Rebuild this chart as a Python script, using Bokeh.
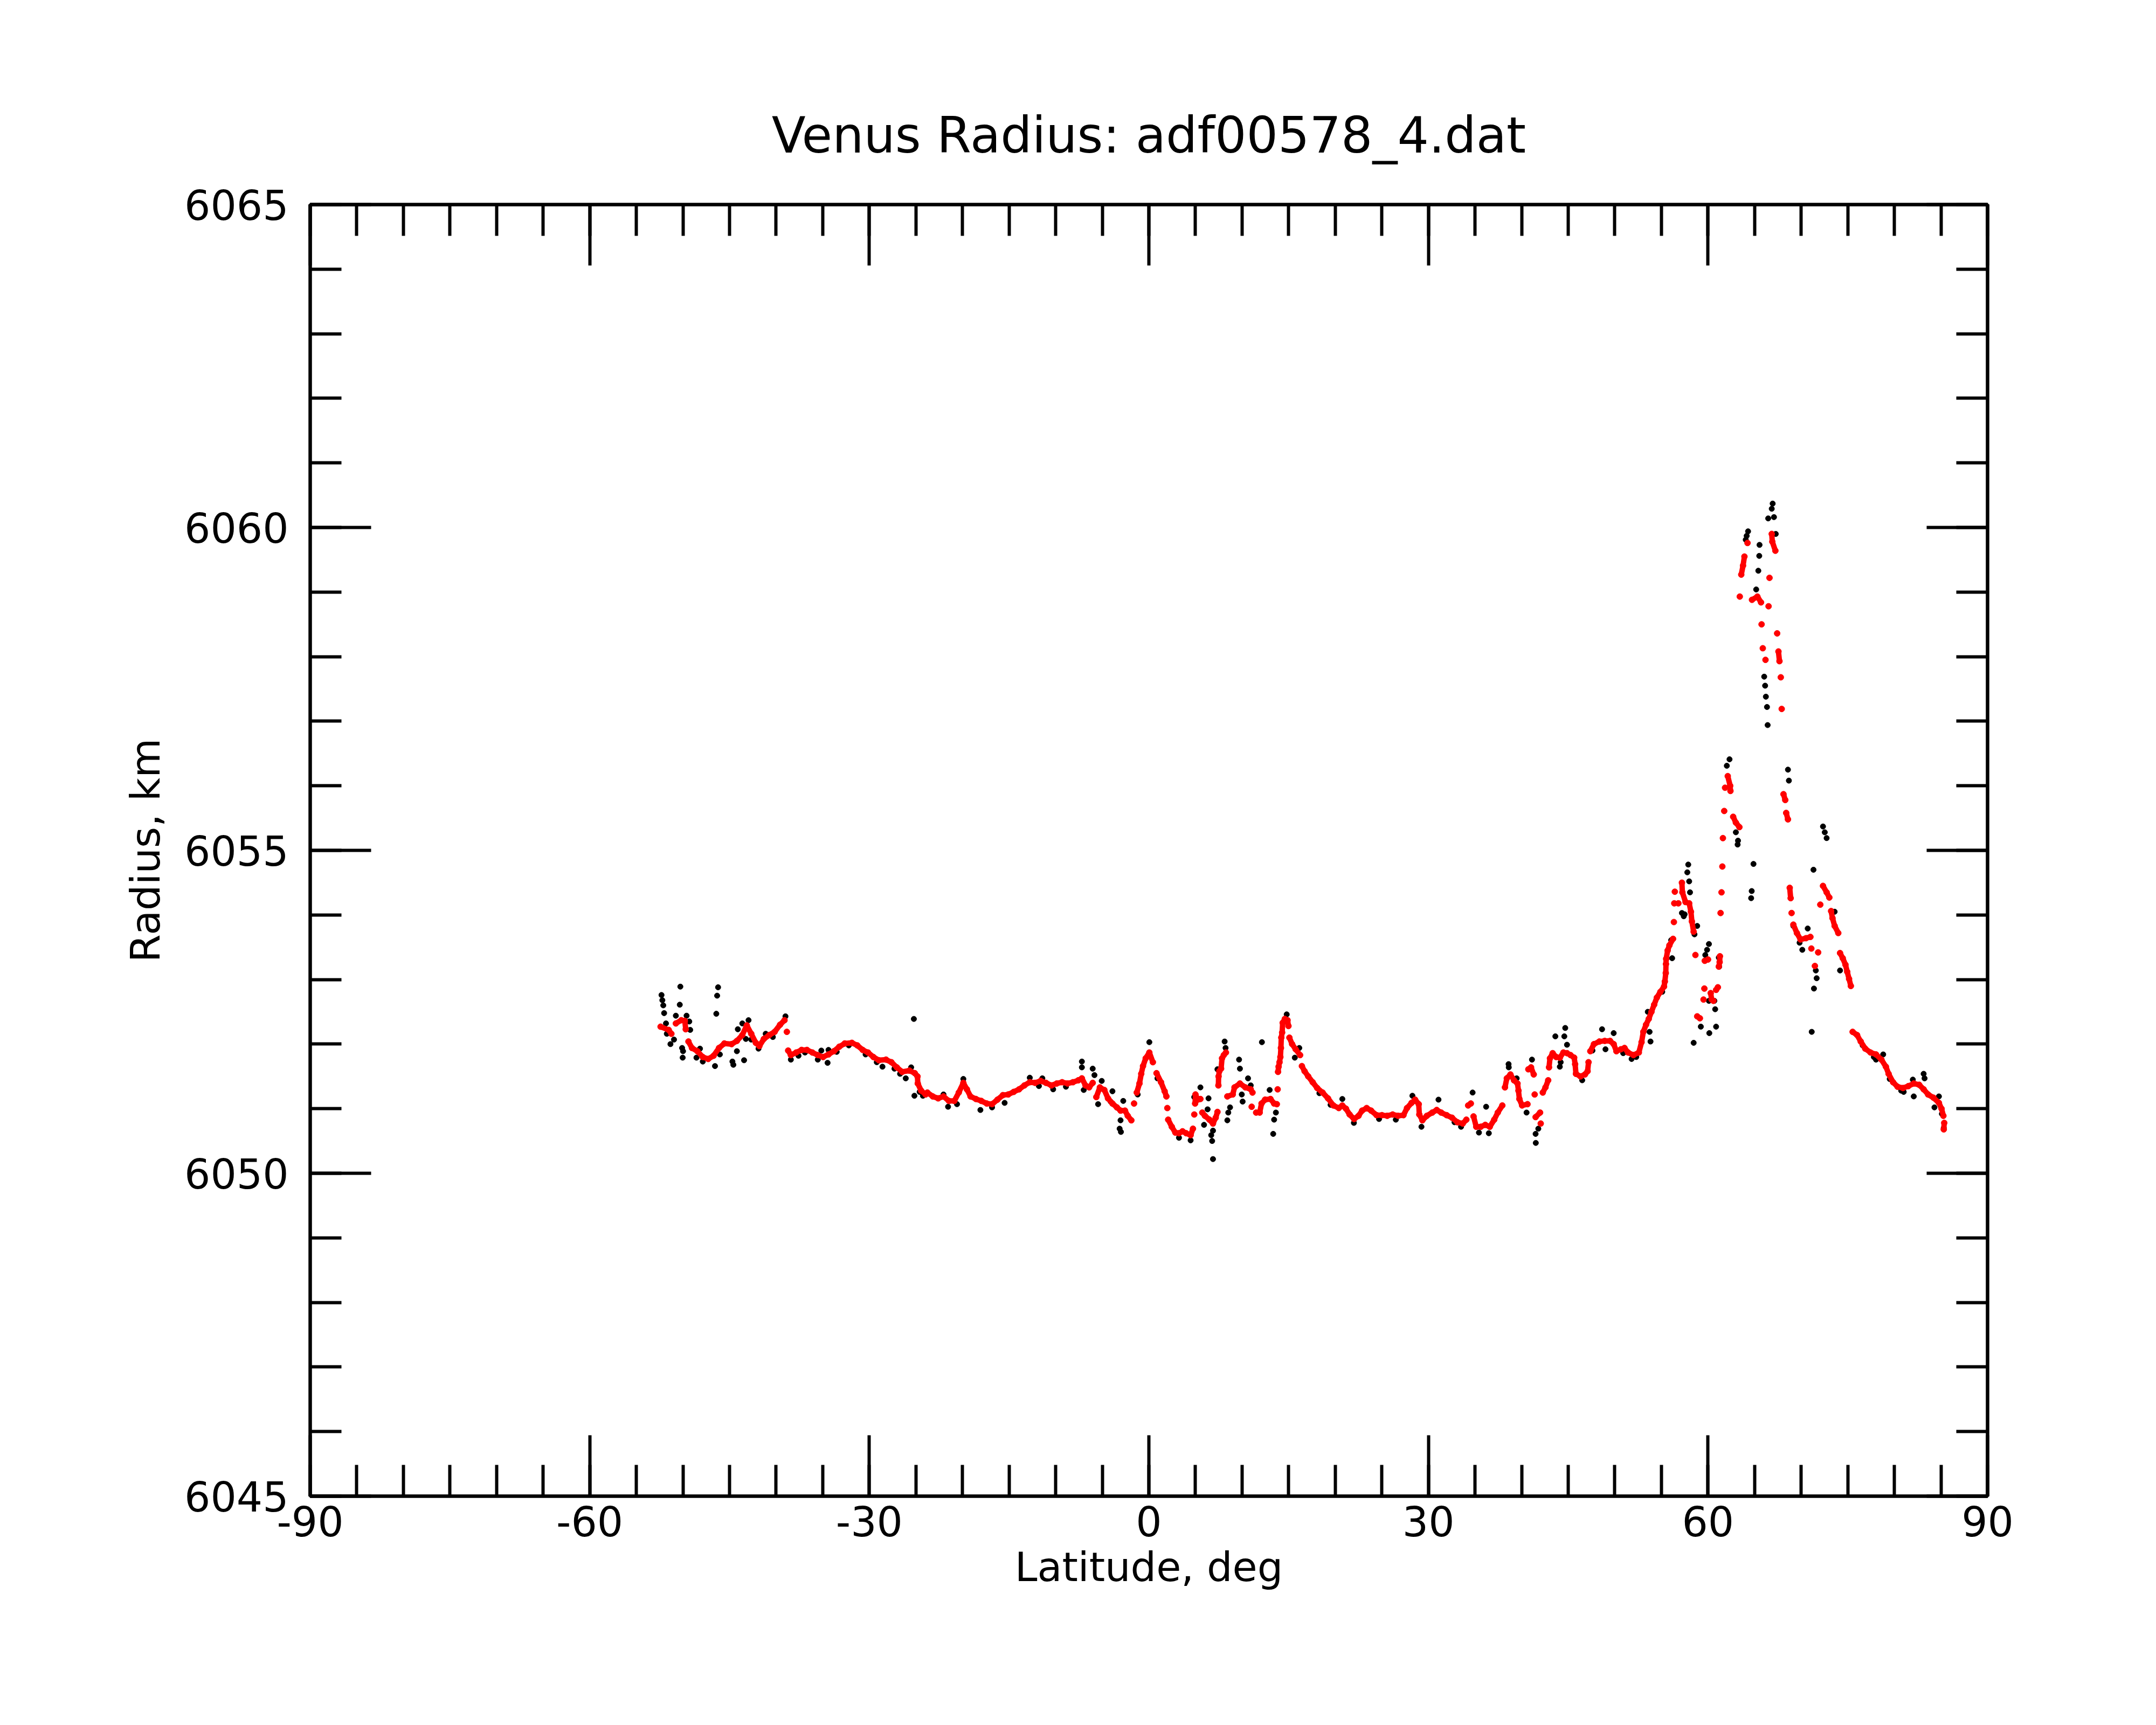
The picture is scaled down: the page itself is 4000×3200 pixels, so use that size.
import math
from bokeh.plotting import figure
from bokeh.models import LinearAxis, FixedTicker, Range1d
from bokeh.embed import file_html
from bokeh.resources import INLINE

TITLE = "Venus Radius: adf00578_4.dat"
X_LABEL = "Latitude, deg"
Y_LABEL = "Radius, km"

x_major_ticks = [-90, -60, -30, 0, 30, 60, 90]
x_tick_labels = ["-90", "-60", "-30", "0", "30", "60", "90"]
x_minor_ticks = list(range(-90, 91, 5))
y_major_ticks = [6045, 6050, 6055, 6060, 6065]
y_tick_labels = ["6045", "6050", "6055", "6060", "6065"]
y_minor_ticks = list(range(6045, 6066, 1))

# Smoothed radius (red)
red_lat = [
    -52.40, -51.53, -51.24, -50.76, -50.18, -49.80, -49.70, -49.41, -49.03, -48.45,
    -47.87, -47.29, -46.71, -46.13, -45.56, -44.78, -44.21, -43.63, -43.15, -42.67,
    -42.18, -41.80, -41.32, -40.74, -40.16, -39.58, -39.10, -38.85, -38.71, -38.42,
    -37.85, -37.27, -36.69, -36.11, -35.53, -34.96, -34.38, -33.80, -33.22, -32.64,
    -31.87, -31.29, -30.71, -30.14, -29.56, -28.98, -28.21, -27.63, -27.05, -26.47,
    -25.70, -25.12, -24.83, -24.80, -24.44, -23.96, -23.77, -23.19, -22.61, -22.04,
    -21.46, -20.88, -20.40, -19.91, -19.53, -19.14, -18.56, -17.98, -17.40, -16.83,
    -16.25, -15.67, -15.09, -14.51, -13.93, -13.36, -12.78, -12.20, -11.62, -11.04,
    -10.46, -9.89, -9.31, -8.73, -8.15, -7.57, -7.19, -6.80, -6.41, -6.03,
    -5.64, -5.26, -4.78, -4.39, -3.91, -3.43, -3.04, -2.56, -2.27, -1.88,
    -1.59, -1.30, -1.01, -0.82, -0.63, -0.34, 0.05, 0.43, 0.82, 1.30,
    1.69, 1.88, 1.98, 2.07, 2.46, 2.84, 3.23, 3.61, 4.00, 4.48,
    4.73, 4.87, 4.96, 5.00, 5.24, 5.53, 5.73, 6.01, 6.50, 6.88,
    7.17, 7.36, 7.46, 7.48, 7.56, 7.75, 7.85, 8.04, 8.27, 8.42,
    9.00, 9.19, 9.77, 10.35, 10.93, 11.12, 11.03, 11.51, 11.89, 12.09,
    12.47, 13.05, 13.44, 13.73, 13.82, 13.86, 13.92, 14.02, 14.11, 14.17,
    14.21, 14.30, 14.36, 14.59, 14.88, 14.98, 15.08, 15.37, 15.75, 16.23,
    16.42, 16.71, 17.10, 17.58, 18.06, 18.64, 19.22, 19.80, 20.38, 20.76,
    21.15, 21.54, 22.02, 22.50, 22.88, 23.37, 23.85, 24.43, 25.01, 25.58,
    26.16, 26.74, 27.32, 27.70, 28.19, 28.57, 28.96, 29.02, 29.35, 29.83,
    30.41, 30.89, 31.37, 31.95, 32.53, 33.11, 33.68, 34.07, 34.26, 34.55,
    34.84, 35.13, 35.61, 36.10, 36.58, 37.06, 37.44, 37.93, 38.21, 38.41,
    38.80, 39.18, 39.56, 39.66, 39.76, 40.05, 40.63, 40.72, 41.01, 41.30,
    41.40, 41.50, 41.98, 42.05, 42.27, 42.56, 42.85, 42.94, 43.04, 43.33,
    43.71, 44.10, 44.48, 44.87, 45.25, 45.64, 45.74, 45.83, 46.31, 46.80,
    47.08, 47.18, 47.37, 47.76, 48.34, 48.92, 49.49, 49.88, 50.17, 50.65,
    51.04, 51.42, 52.00, 52.58, 52.87, 53.06, 53.35, 53.64, 53.93, 54.22,
    54.51, 54.89, 55.28, 55.37, 55.47, 55.49, 55.51, 55.67, 55.86, 56.25,
    56.34, 56.38, 56.44, 56.82, 57.20, 57.25, 57.59, 57.98, 58.17, 58.27,
    58.46, 58.65, 58.84, 59.13, 59.52, 59.61, 59.65, 60.00, 60.29, 60.39,
    60.58, 60.87, 61.06, 61.16, 61.25, 61.28, 61.35, 61.45, 61.54, 61.60,
    61.74, 61.83, 62.12, 62.41, 62.38, 62.70, 62.99, 63.37, 63.41, 63.57,
    63.76, 63.91, 64.24, 64.72, 65.30, 65.69, 65.75, 65.88, 66.17, 66.50,
    66.60, 66.84, 66.90, 67.23, 67.42, 67.56, 67.67, 67.81, 67.91, 68.10,
    68.29, 68.39, 68.58, 68.77, 68.87, 68.97, 69.16, 69.54, 69.93, 70.51,
    70.99, 71.09, 71.47, 71.82, 72.05, 72.34, 72.73, 73.02, 73.21, 73.36,
    73.59, 73.98, 74.17, 74.46, 74.75, 74.94, 75.14, 75.33, 75.52, 76.00,
    76.39, 76.87, 77.44, 78.03, 78.61, 79.09, 79.38, 79.86, 80.34, 80.92,
    81.50, 82.08, 82.66, 83.14, 83.62, 84.20, 84.78, 85.06, 85.26, 85.35,
    85.30,
]
red_rad = [
    6052.27, 6052.22, 6052.16, 6052.32, 6052.37, 6052.36, 6052.23, 6052.04, 6051.94, 6051.89,
    6051.80, 6051.77, 6051.82, 6051.94, 6052.01, 6052.00, 6052.05, 6052.14, 6052.29, 6052.16,
    6052.02, 6051.97, 6052.08, 6052.14, 6052.19, 6052.30, 6052.37, 6052.19, 6051.90, 6051.83,
    6051.87, 6051.91, 6051.91, 6051.87, 6051.83, 6051.80, 6051.84, 6051.89, 6051.96, 6052.01,
    6052.02, 6051.98, 6051.91, 6051.87, 6051.80, 6051.75, 6051.76, 6051.72, 6051.64, 6051.57,
    6051.59, 6051.55, 6051.50, 6051.39, 6051.28, 6051.22, 6051.25, 6051.19, 6051.16, 6051.19,
    6051.12, 6051.12, 6051.25, 6051.40, 6051.30, 6051.19, 6051.15, 6051.12, 6051.08, 6051.07,
    6051.14, 6051.21, 6051.22, 6051.26, 6051.30, 6051.36, 6051.41, 6051.40, 6051.43, 6051.40,
    6051.36, 6051.39, 6051.41, 6051.39, 6051.41, 6051.44, 6051.47, 6051.36, 6051.33, 6051.40,
    6051.18, 6051.33, 6051.29, 6051.16, 6051.08, 6051.02, 6050.97, 6050.97, 6050.89, 6050.82,
    6051.08, 6051.25, 6051.39, 6051.54, 6051.66, 6051.78, 6051.87, 6051.72, 6051.55, 6051.41,
    6051.27, 6051.19, 6051.01, 6050.83, 6050.72, 6050.63, 6050.62, 6050.65, 6050.62, 6050.59,
    6050.69, 6050.91, 6051.08, 6051.22, 6051.14, 6051.15, 6050.94, 6050.89, 6050.83, 6050.77,
    6050.86, 6050.95, 6051.36, 6051.50, 6051.58, 6051.62, 6051.78, 6051.83, 6051.87, 6051.19,
    6051.22, 6051.33, 6051.39, 6051.33, 6051.30, 6051.25, 6051.03, 6050.94, 6050.94, 6051.08,
    6051.14, 6051.15, 6051.08, 6051.07, 6051.30, 6051.57, 6051.65, 6051.72, 6051.80, 6051.94,
    6052.10, 6052.18, 6052.33, 6052.39, 6052.37, 6052.28, 6052.10, 6052.00, 6051.92, 6051.83,
    6051.66, 6051.58, 6051.50, 6051.41, 6051.32, 6051.25, 6051.16, 6051.05, 6051.01, 6051.05,
    6051.00, 6050.91, 6050.84, 6050.89, 6050.97, 6051.01, 6050.97, 6050.90, 6050.90, 6050.89,
    6050.91, 6050.89, 6050.90, 6051.01, 6051.09, 6051.14, 6051.07, 6050.91, 6050.82, 6050.89,
    6050.94, 6050.98, 6050.94, 6050.90, 6050.86, 6050.79, 6050.77, 6050.83, 6051.05, 6051.08,
    6050.88, 6050.72, 6050.72, 6050.75, 6050.72, 6050.83, 6050.94, 6051.05, 6051.33, 6051.47,
    6051.53, 6051.44, 6051.39, 6051.28, 6051.15, 6051.05, 6051.07, 6051.61, 6051.64, 6051.53,
    6051.22, 6050.87, 6050.94, 6050.77, 6051.25, 6051.33, 6051.44, 6051.64, 6051.78, 6051.86,
    6051.80, 6051.79, 6051.87, 6051.86, 6051.83, 6051.79, 6051.69, 6051.54, 6051.50, 6051.53,
    6051.58, 6051.72, 6051.89, 6052.00, 6052.04, 6052.05, 6052.05, 6052.00, 6051.89, 6051.92,
    6051.94, 6051.87, 6051.83, 6051.87, 6052.03, 6052.19, 6052.30, 6052.39, 6052.50, 6052.61,
    6052.72, 6052.81, 6052.89, 6052.97, 6053.10, 6053.24, 6053.32, 6053.45, 6053.53, 6053.63,
    6053.89, 6054.18, 6054.36, 6054.18, 6054.50, 6054.35, 6054.20, 6054.18, 6054.05, 6053.90,
    6053.74, 6053.38, 6052.43, 6052.40, 6052.69, 6052.86, 6053.29, 6053.31, 6052.79, 6052.69,
    6052.67, 6052.84, 6052.88, 6053.20, 6053.27, 6053.36, 6054.03, 6054.35, 6054.75, 6055.19,
    6055.61, 6055.97, 6056.15, 6055.92, 6056.00, 6055.52, 6055.43, 6055.36, 6058.93, 6059.27,
    6059.41, 6059.55, 6059.76, 6058.88, 6058.93, 6058.84, 6058.50, 6058.13, 6057.95, 6058.78,
    6059.22, 6059.90, 6059.78, 6059.64, 6058.36, 6058.08, 6057.93, 6057.68, 6057.19, 6055.87,
    6055.78, 6055.58, 6055.48, 6054.42, 6054.26, 6054.03, 6053.85, 6053.72, 6053.62, 6053.64,
    6053.66, 6053.48, 6053.21, 6053.42, 6054.16, 6054.45, 6054.35, 6054.27, 6054.06, 6053.95,
    6053.83, 6053.72, 6053.41, 6053.33, 6053.23, 6053.12, 6053.01, 6052.90, 6052.19, 6052.14,
    6052.04, 6051.93, 6051.87, 6051.84, 6051.76, 6051.65, 6051.54, 6051.41, 6051.34, 6051.32,
    6051.35, 6051.39, 6051.37, 6051.30, 6051.22, 6051.17, 6051.09, 6051.00, 6050.89, 6050.78,
    6050.68,
]

# Raw radius (black)
black_lat = [
    -52.30, -52.21, -52.11, -52.02, -51.82, -51.73, -51.34, -50.96, -50.76, -50.28,
    -50.34, -50.09, -49.99, -50.03, -49.61, -49.32, -49.22, -48.55, -48.17, -47.87,
    -46.56, -46.33, -46.23, -46.42, -46.04, -44.69, -44.59, -44.21, -44.11, -43.63,
    -43.44, -43.25, -42.96, -42.67, -41.89, -41.12, -40.35, -39.00, -38.42, -35.53,
    -34.48, -35.15, -34.38, -28.59, -26.09, -25.51, -25.22, -25.16, -24.25, -37.60,
    -36.90, -33.50, -32.20, -30.40, -29.20, -27.30, -26.70, -24.60, -18.08, -22.04,
    -21.55, -20.59, -19.91, -16.83, -15.48, -12.78, -11.80, -11.43, -10.27, -8.90,
    -7.19, -7.19, -6.03, -5.84, -5.06, -5.45, -3.91, -2.75, -3.04, -3.14,
    -3.00, 0.05, 0.92, -1.20, 3.23, 4.48, 4.87, -6.99, -4.10, 5.53,
    6.40, 6.30, 5.92, 6.88, 6.79, 6.88, 6.69, 8.13, 8.23, 7.36,
    8.42, 8.52, 8.71, 9.68, 9.77, 10.06, 10.64, 10.93, 9.97, 12.13,
    12.96, 13.63, 13.44, 13.34, 14.79, 16.14, 15.66, 20.76, 28.28, 29.25,
    31.08, 18.30, 19.50, 22.00, 24.70, 26.50, 32.80, 33.50, 34.74, 35.42,
    36.48, 36.19, 38.60, 38.62, 39.47, 40.53, 41.11, 41.50, 41.52, 41.79,
    43.62, 44.68, 44.58, 44.87, 44.10, 44.19, 48.63, 49.88, 49.00, 53.54,
    53.73, 53.83, 55.09, 56.05, 56.15, 57.20, 46.50, 47.60, 50.90, 51.80,
    52.30, 66.94, 66.84, 66.46, 67.08, 64.30, 64.15, 64.05, 65.53, 67.27,
    65.50, 65.40, 65.17, 66.03, 66.13, 66.21, 66.33, 66.40, 62.31, 62.02,
    68.58, 68.68, 72.34, 72.53, 72.73, 63.18, 63.22, 62.99, 64.88, 64.69,
    64.63, 71.32, 57.88, 57.78, 57.98, 58.07, 57.49, 57.40, 58.84, 58.55,
    60.10, 59.90, 59.71, 61.16, 61.20, 60.68, 60.77, 60.10, 59.23, 58.46,
    60.14, 60.87, 69.16, 70.70, 69.83, 70.12, 71.57, 71.66, 71.37, 71.13,
    73.59, 74.17, 78.80, 78.03, 82.08, 83.14, 83.24, 84.78, 84.30, 81.98,
    80.73, 76.60, 77.80, 79.50, 81.00, 85.10, 85.30,
]
black_rad = [
    6052.76, 6052.68, 6052.60, 6052.48, 6052.32, 6052.16, 6052.00, 6052.07, 6052.44, 6052.89,
    6052.61, 6051.94, 6051.89, 6051.79, 6052.44, 6052.35, 6052.22, 6051.79, 6051.93, 6051.73,
    6051.66, 6052.75, 6052.88, 6052.47, 6051.84, 6051.73, 6051.68, 6051.89, 6052.23, 6052.32,
    6051.75, 6052.08, 6052.37, 6052.07, 6051.93, 6052.16, 6052.11, 6052.43, 6051.76, 6051.76,
    6051.71, 6051.90, 6051.91, 6051.65, 6051.47, 6051.64, 6052.39, 6051.20, 6051.20, 6051.82,
    6051.87, 6051.88, 6051.98, 6051.84, 6051.72, 6051.62, 6051.54, 6051.26, 6050.98, 6051.22,
    6051.03, 6051.07, 6051.46, 6051.02, 6051.09, 6051.48, 6051.35, 6051.47, 6051.30, 6051.34,
    6051.73, 6051.64, 6051.62, 6051.52, 6051.43, 6051.07, 6051.27, 6051.12, 6050.82, 6050.69,
    6050.64, 6052.03, 6051.47, 6051.22, 6050.55, 6050.51, 6051.18, 6051.29, 6051.11, 6051.33,
    6051.16, 6050.99, 6050.75, 6050.66, 6050.50, 6050.22, 6050.59, 6052.04, 6051.94, 6051.61,
    6050.82, 6050.94, 6051.02, 6051.76, 6051.62, 6051.11, 6051.47, 6051.36, 6051.22, 6052.03,
    6051.29, 6050.94, 6050.83, 6050.61, 6052.46, 6051.94, 6051.79, 6051.15, 6051.20, 6050.72,
    6051.14, 6051.24, 6051.06, 6050.78, 6050.84, 6050.83, 6050.79, 6050.72, 6051.25, 6050.63,
    6050.62, 6051.03, 6051.69, 6051.64, 6051.47, 6050.94, 6051.76, 6050.61, 6050.47, 6050.69,
    6052.12, 6052.25, 6052.12, 6051.99, 6051.65, 6051.72, 6052.23, 6052.17, 6051.92, 6052.50,
    6052.19, 6052.04, 6052.81, 6053.61, 6053.33, 6054.03, 6051.44, 6051.90, 6051.86, 6051.77,
    6051.80, 6060.37, 6060.29, 6060.14, 6060.16, 6059.94, 6059.87, 6059.81, 6059.73, 6059.90,
    6059.56, 6059.33, 6059.04, 6057.69, 6057.55, 6057.38, 6057.22, 6056.94, 6056.41, 6056.31,
    6056.25, 6056.08, 6055.37, 6055.28, 6055.19, 6055.09, 6055.15, 6055.28, 6054.79, 6054.37,
    6054.26, 6054.70, 6054.78, 6054.66, 6054.52, 6054.35, 6054.01, 6053.98, 6053.83, 6053.70,
    6053.55, 6053.46, 6053.38, 6053.34, 6053.20, 6052.67, 6052.54, 6052.67, 6052.27, 6052.02,
    6052.17, 6052.27, 6053.83, 6053.79, 6053.57, 6053.46, 6053.14, 6053.02, 6052.86, 6052.19,
    6054.05, 6053.14, 6051.84, 6051.76, 6051.19, 6051.54, 6051.47, 6051.19, 6051.02, 6051.45,
    6051.28, 6051.98, 6051.80, 6051.46, 6051.26, 6050.92, 6050.70,
]

FONT = "DejaVu Sans"
FRAME_W, FRAME_H = 3112, 2396
X0, X1 = x_major_ticks[0], x_major_ticks[-1]
Y0, Y1 = y_major_ticks[0], y_major_ticks[-1]

p = figure(frame_width=FRAME_W, frame_height=FRAME_H,
           x_range=Range1d(X0, X1), y_range=Range1d(Y0, Y1),
           output_backend="svg", toolbar_location=None,
           x_axis_location=None, y_axis_location=None,
           min_border_left=575, min_border_top=379,
           min_border_right=250, min_border_bottom=330)
p.xgrid.visible = False
p.ygrid.visible = False
for g in p.grid:
    g.visible = False
p.outline_line_color = "black"
p.outline_line_width = 6
p.background_fill_color = "white"
p.border_fill_color = "white"

p.title.text = TITLE
p.title.align = "center"
p.title.text_font = FONT
p.title.text_font_size = "92px"
p.title.text_font_style = "normal"
p.title.text_color = "black"
p.title.standoff = 150
p.title.offset = 15


def make_axis(ticks, minor, labels, label=None):
    ax = LinearAxis(ticker=FixedTicker(ticks=ticks, minor_ticks=minor))
    ax.axis_line_width = 6
    ax.axis_line_color = "black"
    ax.major_tick_in = 113
    ax.major_tick_out = 0
    ax.minor_tick_in = 58
    ax.minor_tick_out = 0
    ax.major_tick_line_width = 6
    ax.minor_tick_line_width = 6
    ax.major_tick_line_color = "black"
    ax.minor_tick_line_color = "black"
    ax.major_label_text_font = FONT
    ax.major_label_text_color = "black"
    if labels is None:
        ax.major_label_overrides = {t: "" for t in ticks}
        ax.major_label_text_font_size = "1px"
        ax.major_label_standoff = 0
    else:
        ax.major_label_overrides = dict(zip(ticks, labels))
        ax.major_label_text_font_size = "76px"
    if label is not None:
        ax.axis_label = label
        ax.axis_label_text_font = FONT
        ax.axis_label_text_font_size = "75px"
        ax.axis_label_text_font_style = "normal"
        ax.axis_label_text_color = "black"
    return ax


bottom = make_axis(x_major_ticks, x_minor_ticks, x_tick_labels, X_LABEL)
bottom.major_label_standoff = 18
bottom.axis_label_standoff = 10
top = make_axis(x_major_ticks, x_minor_ticks, None)
left = make_axis(y_major_ticks, y_minor_ticks, y_tick_labels, Y_LABEL)
left.major_label_standoff = 40
left.axis_label_standoff = 25
right = make_axis(y_major_ticks, y_minor_ticks, None)
p.add_layout(bottom, "below")
p.add_layout(top, "above")
p.add_layout(left, "left")
p.add_layout(right, "right")

# black raw points
p.scatter(black_lat, black_rad, size=10, color="black", marker="circle")

# red smoothed points, joined where neighbouring samples touch on screen
order = sorted(range(len(red_lat)), key=lambda i: red_lat[i])
sx = FRAME_W / (X1 - X0)
sy = FRAME_H / (Y1 - Y0)
segs_x, segs_y = [], []
cur_x, cur_y = [], []
for i in order:
    if cur_x:
        d = math.hypot((red_lat[i] - cur_x[-1]) * sx, (red_rad[i] - cur_y[-1]) * sy)
        if d > 20:
            if len(cur_x) > 1:
                segs_x.append(cur_x)
                segs_y.append(cur_y)
            cur_x, cur_y = [], []
    cur_x.append(red_lat[i])
    cur_y.append(red_rad[i])
if len(cur_x) > 1:
    segs_x.append(cur_x)
    segs_y.append(cur_y)
p.multi_line(segs_x, segs_y, line_color="red", line_width=10, line_cap="round", line_join="round")
p.scatter(red_lat, red_rad, size=11, color="red", marker="circle")

open("out.html", "w").write(file_html(p, INLINE))
